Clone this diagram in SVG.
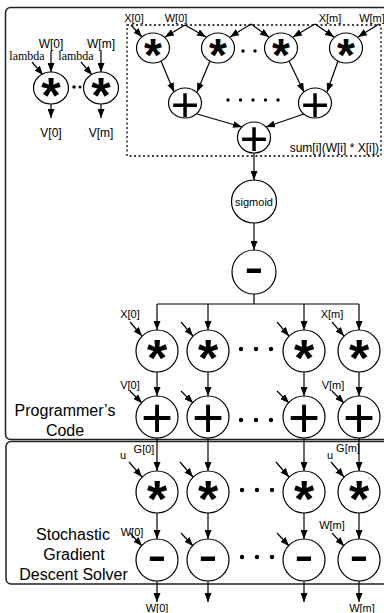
<svg xmlns="http://www.w3.org/2000/svg" width="384" height="613" viewBox="0 0 384 613">
<style>
.frame{fill:none;stroke:#222;stroke-width:1.5}
.n{fill:#fff;stroke:#000;stroke-width:1.2}
.c path,.c line{fill:none;stroke:#000;stroke-width:1.2}
.ar{marker-end:url(#ah)}
.t{font-family:"Liberation Sans",Arial,sans-serif;fill:#000}
.s11{font-size:11px}
.s12{font-size:12px}
.s16{font-size:16px}
.lam{font-family:"Liberation Serif","Times New Roman",serif;font-size:12px}
.m{text-anchor:middle}
.ast{font-family:"Liberation Sans",Arial,sans-serif;font-weight:bold;text-anchor:middle}
.op{font-family:"Liberation Sans",Arial,sans-serif;text-anchor:middle}
.dot{fill:#000}
.dotted{fill:none;stroke:#000;stroke-width:1.3;stroke-dasharray:2 2.5}
</style>
<defs>
<marker id="ah" viewBox="0 0 9 7" refX="9" refY="3.5" markerWidth="9" markerHeight="7" markerUnits="userSpaceOnUse" orient="auto"><path d="M0,0 L9,3.5 L0,7 z" fill="#000"/></marker>
</defs>

<rect class="frame" x="5.5" y="7.5" width="395" height="432" rx="5"/>
<rect class="frame" x="6" y="441.5" width="395" height="142.5" rx="5"/>
<rect class="dotted" x="127" y="25" width="254" height="131"/>

<g class="c" id="connectors">
<path class="ar" d="M51,51 V72"/>
<path class="ar" d="M101,51 V72"/>
<path class="ar" d="M32,62 L43,75"/>
<path class="ar" d="M81,62 L92,75"/>
<path class="ar" d="M51,104 V118"/>
<path class="ar" d="M101,104 V118"/>
<path class="ar" d="M131,25 L142,37"/>
<path class="ar" d="M185,25 L165,37"/>
<path class="ar" d="M185,25 L206,37"/>
<path class="ar" d="M251,24 L230,37"/>
<path class="ar" d="M251,24 L269,37"/>
<path class="ar" d="M315,24 L293,37"/>
<path class="ar" d="M315,24 L334,37"/>
<path class="ar" d="M379,24 L358,37"/>
<path class="ar" d="M161,61 L174,92"/>
<path class="ar" d="M210,61 L197,92"/>
<path class="ar" d="M289,61 L304,92"/>
<path class="ar" d="M338,61 L327,92"/>
<path class="ar" d="M197,114 L242,127"/>
<path class="ar" d="M304,114 L266,127"/>
<path class="ar" d="M254,153 V180"/>
<path class="ar" d="M254,223 V250"/>
<path d="M254,294 V304 M157,304 H359"/>
<path class="ar" d="M157,304 V330"/>
<path class="ar" d="M208,304 V330"/>
<path class="ar" d="M304,304 V330"/>
<path class="ar" d="M359,304 V330"/>
<path class="ar" d="M130,322 L142,336"/>
<path class="ar" d="M181,322 L193,336"/>
<path class="ar" d="M277,322 L289,336"/>
<path class="ar" d="M332,322 L344,336"/>
<path class="ar" d="M157,372 V396"/>
<path class="ar" d="M208,372 V396"/>
<path class="ar" d="M304,372 V396"/>
<path class="ar" d="M359,372 V396"/>
<path class="ar" d="M130,391 L142,403"/>
<path class="ar" d="M181,391 L193,403"/>
<path class="ar" d="M277,391 L289,403"/>
<path class="ar" d="M332,391 L344,403"/>
<path class="ar" d="M157,438 V471"/>
<path class="ar" d="M208,438 V471"/>
<path class="ar" d="M304,438 V471"/>
<path class="ar" d="M359,438 V471"/>
<path class="ar" d="M129,462 L142,477"/>
<path class="ar" d="M180,462 L193,477"/>
<path class="ar" d="M276,462 L289,477"/>
<path class="ar" d="M331,462 L344,477"/>
<path class="ar" d="M157,513 V539"/>
<path class="ar" d="M208,513 V539"/>
<path class="ar" d="M304,513 V539"/>
<path class="ar" d="M359,513 V539"/>
<path class="ar" d="M130,533 L142,546"/>
<path class="ar" d="M181,533 L193,546"/>
<path class="ar" d="M277,533 L289,546"/>
<path class="ar" d="M332,533 L344,546"/>
<path class="ar" d="M157,581 V602"/>
<path class="ar" d="M208,581 V602"/>
<path class="ar" d="M304,581 V602"/>
<path class="ar" d="M359,581 V602"/>
</g>

<g id="reg0"><ellipse class="n" cx="51" cy="88" rx="17.5" ry="16"/><text class="ast" x="51" y="113" font-size="50">*</text></g>
<g id="regm"><ellipse class="n" cx="101" cy="88" rx="17.5" ry="16"/><text class="ast" x="101" y="113" font-size="50">*</text></g>
<circle class="dot" cx="74" cy="87" r="1.7"/><circle class="dot" cx="80" cy="87" r="1.5"/>

<g id="tm1"><ellipse class="n" cx="153" cy="48" rx="16.5" ry="15"/><text class="ast" x="153" y="70.5" font-size="46">*</text></g>
<g id="tm2"><ellipse class="n" cx="218" cy="48" rx="16.5" ry="15"/><text class="ast" x="218" y="70.5" font-size="46">*</text></g>
<g id="tm3"><ellipse class="n" cx="281" cy="48" rx="16.5" ry="15"/><text class="ast" x="281" y="70.5" font-size="46">*</text></g>
<g id="tm4"><ellipse class="n" cx="346" cy="48" rx="16.5" ry="15"/><text class="ast" x="346" y="70.5" font-size="46">*</text></g>
<circle class="dot" cx="243" cy="51" r="1.7"/><circle class="dot" cx="255" cy="51" r="1.7"/>
<g id="ta1"><ellipse class="n" cx="185" cy="103" rx="16.5" ry="15"/><text class="op" x="185" y="120.5" font-size="49">+</text></g>
<g id="ta2"><ellipse class="n" cx="315" cy="103" rx="16.5" ry="15"/><text class="op" x="315" y="120.5" font-size="49">+</text></g>
<circle class="dot" cx="228" cy="100" r="1.7"/><circle class="dot" cx="240.5" cy="100" r="1.7"/><circle class="dot" cx="253" cy="100" r="1.7"/><circle class="dot" cx="265.5" cy="100" r="1.7"/><circle class="dot" cx="278" cy="100" r="1.7"/>
<g id="tsum"><ellipse class="n" cx="254" cy="137.5" rx="16.5" ry="15.5"/><text class="op" x="254" y="155" font-size="49">+</text></g>

<g id="sigmoid"><ellipse class="n" cx="254" cy="201.5" rx="22.5" ry="21.5"/><text class="t s11 m" x="254" y="205.5">sigmoid</text></g>
<g id="sub"><ellipse class="n" cx="254" cy="272" rx="22" ry="22"/><text class="op" x="254" y="286" font-size="58">-</text></g>

<g id="g1m0"><circle class="n" cx="157" cy="351" r="21"/><text class="ast" x="157" y="376" font-size="52">*</text></g>
<g id="g1m1"><circle class="n" cx="208" cy="351" r="21"/><text class="ast" x="208" y="376" font-size="52">*</text></g>
<g id="g1m2"><circle class="n" cx="304" cy="351" r="21"/><text class="ast" x="304" y="376" font-size="52">*</text></g>
<g id="g1m3"><circle class="n" cx="359" cy="351" r="21"/><text class="ast" x="359" y="376" font-size="52">*</text></g>
<circle class="dot" cx="241" cy="349" r="2.2"/><circle class="dot" cx="256" cy="349" r="2.2"/><circle class="dot" cx="271" cy="349" r="2.2"/>
<g id="g1a0"><circle class="n" cx="157" cy="417" r="21"/><text class="op" x="157" y="436.5" font-size="55">+</text></g>
<g id="g1a1"><circle class="n" cx="208" cy="417" r="21"/><text class="op" x="208" y="436.5" font-size="55">+</text></g>
<g id="g1a2"><circle class="n" cx="304" cy="417" r="21"/><text class="op" x="304" y="436.5" font-size="55">+</text></g>
<g id="g1a3"><circle class="n" cx="359" cy="417" r="21"/><text class="op" x="359" y="436.5" font-size="55">+</text></g>
<circle class="dot" cx="241" cy="420" r="2.2"/><circle class="dot" cx="256" cy="420" r="2.2"/><circle class="dot" cx="271" cy="420" r="2.2"/>

<g id="g2m0"><circle class="n" cx="157" cy="492" r="21"/><text class="ast" x="157" y="517" font-size="52">*</text></g>
<g id="g2m1"><circle class="n" cx="208" cy="492" r="21"/><text class="ast" x="208" y="517" font-size="52">*</text></g>
<g id="g2m2"><circle class="n" cx="304" cy="492" r="21"/><text class="ast" x="304" y="517" font-size="52">*</text></g>
<g id="g2m3"><circle class="n" cx="359" cy="492" r="21"/><text class="ast" x="359" y="517" font-size="52">*</text></g>
<circle class="dot" cx="242" cy="490" r="2.2"/><circle class="dot" cx="257" cy="490" r="2.2"/><circle class="dot" cx="272" cy="490" r="2.2"/>
<g id="g2s0"><circle class="n" cx="157" cy="560" r="21"/><text class="op" x="157" y="574" font-size="58">-</text></g>
<g id="g2s1"><circle class="n" cx="208" cy="560" r="21"/><text class="op" x="208" y="574" font-size="58">-</text></g>
<g id="g2s2"><circle class="n" cx="304" cy="560" r="21"/><text class="op" x="304" y="574" font-size="58">-</text></g>
<g id="g2s3"><circle class="n" cx="359" cy="560" r="21"/><text class="op" x="359" y="574" font-size="58">-</text></g>
<circle class="dot" cx="242" cy="557" r="2.2"/><circle class="dot" cx="257" cy="557" r="2.2"/><circle class="dot" cx="272" cy="557" r="2.2"/>

<g id="labels">
<text class="t s12 m" x="51" y="48">W[0]</text>
<text class="t s12 m" x="101" y="48">W[m]</text>
<text class="lam m" x="27" y="60">lambda</text>
<text class="lam m" x="76" y="60">lambda</text>
<text class="t s12 m" x="51" y="137">V[0]</text>
<text class="t s12 m" x="101" y="137">V[m]</text>
<text class="t s11 m" x="134" y="22">X[0]</text>
<text class="t s11 m" x="176" y="22">W[0]</text>
<text class="t s11 m" x="330" y="22">X[m]</text>
<text class="t s11 m" x="372" y="22">W[m]</text>
<text class="t s12" x="379" y="152" text-anchor="end">sum[i](W[i] * X[i])</text>
<text class="t s11 m" x="130" y="318">X[0]</text>
<text class="t s11 m" x="332" y="318">X[m]</text>
<text class="t s11 m" x="130" y="389">V[0]</text>
<text class="t s11 m" x="333" y="389">V[m]</text>
<text class="t s11 m" x="144" y="453">G[0]</text>
<text class="t s11 m" x="123" y="459">u</text>
<text class="t s11 m" x="348" y="452">G[m]</text>
<text class="t s11 m" x="330" y="459">u</text>
<text class="t s11 m" x="132" y="536">W[0]</text>
<text class="t s11 m" x="332" y="529">W[m]</text>
<text class="t s11 m" x="157" y="612">W[0]</text>
<text class="t s11 m" x="362" y="612">W[m]</text>
<text class="t s16 m" x="65" y="416">Programmer’s</text>
<text class="t s16 m" x="65" y="436">Code</text>
<text class="t s16 m" x="73" y="539.5">Stochastic</text>
<text class="t s16 m" x="74" y="559.5">Gradient</text>
<text class="t s16 m" x="73.5" y="580">Descent Solver</text>
</g>
</svg>
